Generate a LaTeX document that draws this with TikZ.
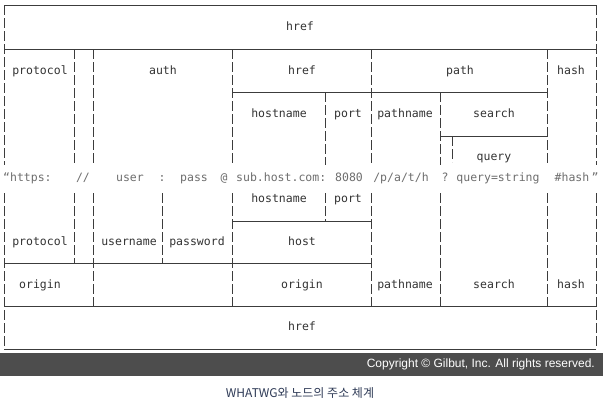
\documentclass[tikz,border=0pt]{standalone}
\usepackage{fontspec}
\usepackage{tikz}
\setmonofont{DejaVu Sans Mono}
\setsansfont{Liberation Sans}
\newfontfamily\kofont{Noto Sans CJK KR}
\usetikzlibrary{positioning}

\definecolor{linegray}{HTML}{3C3C3C}
\definecolor{textgray}{HTML}{333333}
\definecolor{urlgray}{HTML}{6E6E6E}
\definecolor{bandgray}{HTML}{4D4D4D}
\definecolor{capblue}{HTML}{2E3A56}

\begin{document}
\begin{tikzpicture}[
    x=1pt, y=-1pt,
    lbl/.style={
        font=\ttfamily\fontsize{11.5}{13}\selectfont, text=textgray,
        inner sep=0pt, text height=8.5pt, text depth=2.5pt
    },
    url/.style={lbl, text=urlgray},
    rule/.style={draw=linegray, line width=1pt},
    sep/.style={draw=linegray, line width=1pt, dash pattern=on 10pt off 3pt}
]
    \useasboundingbox[fill=white] (0,0) rectangle (603,402);

    % solid rules
    \foreach \y/\xa/\xb in {5/4/596, 49/4/596, 92/232/547, 136/440/547,
                            221/232/371, 263/4/371, 306/4/596, 349/4/596} {
        \draw[rule] (\xa,\y) -- (\xb,\y);
    }

    % dashed separators
    \foreach \x/\ya/\yb in {4/5/165, 4/193/349, 596/5/165, 596/193/349,
                            74/49/165, 74/193/263, 93/49/165, 93/193/306,
                            162/193/263, 232/49/165, 232/193/306,
                            325/92/165, 325/193/221, 371/49/165, 371/193/306,
                            440/92/165, 440/193/306, 452/136/162,
                            547/49/165, 547/193/306} {
        \draw[sep] (\x,\ya) -- (\x,\yb);
    }

    % upper labels
    \node[lbl] (href1)  at (300,27)  {href};
    \node[lbl] (proto1) at (40,71)   {protocol};
    \node[lbl] (auth)   at (163,71)  {auth};
    \node[lbl] (href2)  at (302,71)  {href};
    \node[lbl] (path)   at (460,71)  {path};
    \node[lbl] (hash1)  at (571,71)  {hash};
    \node[lbl] (hname1) at (279,114) {hostname};
    \node[lbl] (port1)  at (348,114) {port};
    \node[lbl] (pname1) at (405,114) {pathname};
    \node[lbl] (srch1)  at (494,114) {search};
    \node[lbl] (query)  at (494,157) {query};

    % the url itself
    \node[url, anchor=west] (t-proto) at (3,178) {“https:};
    \node[url] (t-slash) at (83,178)  {//};
    \node[url] (t-user)  at (130,178) {user};
    \node[url] (t-colon) at (162,178) {:};
    \node[url] (t-pass)  at (194,178) {pass};
    \node[url] (t-at)    at (224,178) {@};
    \node[url, anchor=west] (t-host) at (236,178) {sub.host.com:};
    \node[url] (t-port)  at (349,178) {8080};
    \node[url] (t-path)  at (401,178) {/p/a/t/h};
    \node[url] (t-qmark) at (445,178) {?};
    \node[url] (t-query) at (498,178) {query=string};
    \node[url] (t-hash)  at (572,178) {\#hash};
    \node[url] (t-close) at (595,178) {”};

    % lower labels
    \node[lbl] (hname2) at (279,199) {hostname};
    \node[lbl] (port2)  at (348,199) {port};
    \node[lbl] (proto2) at (40,242)  {protocol};
    \node[lbl] (user)   at (129,242) {username};
    \node[lbl] (pass)   at (197,242) {password};
    \node[lbl] (host)   at (302,242) {host};
    \node[lbl] (orig1)  at (40,285)  {origin};
    \node[lbl] (orig2)  at (302,285) {origin};
    \node[lbl] (pname2) at (405,285) {pathname};
    \node[lbl] (srch2)  at (494,285) {search};
    \node[lbl] (hash2)  at (571,285) {hash};
    \node[lbl] (href3)  at (302,327) {href};

    % copyright band and caption
    \fill[bandgray] (0,353) rectangle (603,376);
    \node[anchor=east, inner sep=0pt, text=white,
          font=\sffamily\fontsize{12}{14}\selectfont] (copy) at (595,364.5)
          {Copyright © Gilbut, Inc. All rights reserved.};
    \node[inner sep=0pt, text=capblue, font=\kofont\fontsize{12}{14}\selectfont]
          (caption) at (300,393) {WHATWG와 노드의 주소 체계};
\end{tikzpicture}
\end{document}
